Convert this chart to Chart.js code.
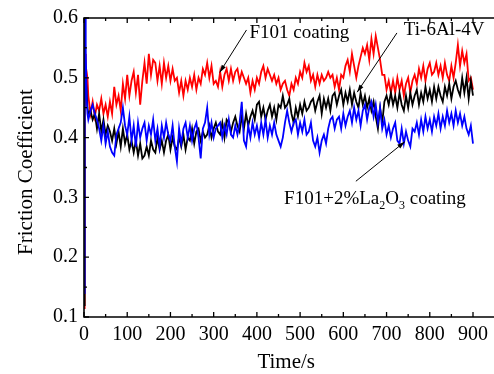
<!DOCTYPE html>
<html>
<head>
<meta charset="utf-8">
<script src="https://cdn.jsdelivr.net/npm/chart.js@4/dist/chart.umd.min.js"></script>
<style>
  body { margin: 0; background: #fff; }
  #wrap { width: 494px; height: 374px; }
</style>
</head>
<body>
<div id="wrap"><canvas id="chart"></canvas></div>
<script>
// time in seconds
const time = [0, 1, 2, 3, 4, 6, 8, 10,
  15, 20, 25, 30, 35, 40, 45, 50, 55, 60,
  65, 70, 75, 80, 85, 90, 95, 100, 105, 110,
  115, 120, 125, 130, 135, 140, 145, 150, 155, 160,
  165, 170, 175, 180, 185, 190, 195, 200, 205, 210,
  215, 220, 225, 230, 235, 240, 245, 250, 255, 260,
  265, 270, 275, 280, 285, 290, 295, 300, 305, 310,
  315, 320, 325, 330, 335, 340, 345, 350, 355, 360,
  365, 370, 375, 380, 385, 390, 395, 400, 405, 410,
  415, 420, 425, 430, 435, 440, 445, 450, 455, 460,
  465, 470, 475, 480, 485, 490, 495, 500, 505, 510,
  515, 520, 525, 530, 535, 540, 545, 550, 555, 560,
  565, 570, 575, 580, 585, 590, 595, 600, 605, 610,
  615, 620, 625, 630, 635, 640, 645, 650, 655, 660,
  665, 670, 675, 680, 685, 690, 695, 700, 705, 710,
  715, 720, 725, 730, 735, 740, 745, 750, 755, 760,
  765, 770, 775, 780, 785, 790, 795, 800, 805, 810,
  815, 820, 825, 830, 835, 840, 845, 850, 855, 860,
  865, 870, 875, 880, 885, 890, 895, 900]

// F101 coating (red)
const f101 = [0.115, 0.13, 0.45, 0.54, 0.52, 0.51, 0.50, 0.47,
  0.44, 0.46, 0.435, 0.455, 0.445, 0.465, 0.44, 0.455, 0.435, 0.46,
  0.44, 0.485, 0.455, 0.47, 0.445, 0.49, 0.465, 0.505, 0.47, 0.495,
  0.51, 0.475, 0.505, 0.455, 0.495, 0.525, 0.49, 0.54, 0.505, 0.53,
  0.525, 0.495, 0.52, 0.49, 0.525, 0.50, 0.52, 0.495, 0.515, 0.495,
  0.50, 0.475, 0.495, 0.47, 0.495, 0.48, 0.50, 0.485, 0.505, 0.48,
  0.50, 0.49, 0.515, 0.505, 0.525, 0.50, 0.52, 0.49, 0.495, 0.485,
  0.51, 0.485, 0.505, 0.515, 0.495, 0.515, 0.495, 0.51, 0.515, 0.495,
  0.51, 0.50, 0.49, 0.50, 0.475, 0.495, 0.48, 0.50, 0.49, 0.51,
  0.52, 0.50, 0.515, 0.505, 0.495, 0.505, 0.49, 0.50, 0.48, 0.49,
  0.495, 0.48, 0.47, 0.49, 0.48, 0.50, 0.49, 0.51, 0.50, 0.525,
  0.51, 0.52, 0.495, 0.505, 0.485, 0.505, 0.49, 0.505, 0.495, 0.50,
  0.51, 0.50, 0.505, 0.485, 0.50, 0.48, 0.505, 0.50, 0.52, 0.53,
  0.51, 0.54, 0.52, 0.50, 0.52, 0.535, 0.55, 0.54, 0.555, 0.53,
  0.565, 0.54, 0.57, 0.55, 0.53, 0.505, 0.505, 0.48, 0.495, 0.475,
  0.495, 0.475, 0.50, 0.48, 0.495, 0.47, 0.49, 0.50, 0.475, 0.495,
  0.505, 0.49, 0.515, 0.50, 0.52, 0.495, 0.515, 0.525, 0.505, 0.51,
  0.525, 0.505, 0.52, 0.50, 0.525, 0.505, 0.495, 0.52, 0.50, 0.525,
  0.555, 0.52, 0.545, 0.525, 0.54, 0.495, 0.50, 0.48]

// Ti-6Al-4V (black)
const ti64 = [0.12, 0.25, 0.45, 0.51, 0.50, 0.48, 0.45, 0.44,
  0.445, 0.43, 0.44, 0.415, 0.44, 0.41, 0.43, 0.405, 0.42, 0.41,
  0.395, 0.415, 0.39, 0.41, 0.385, 0.415, 0.39, 0.405, 0.38, 0.395,
  0.375, 0.395, 0.37, 0.39, 0.365, 0.37, 0.385, 0.37, 0.395, 0.38,
  0.375, 0.40, 0.38, 0.395, 0.375, 0.395, 0.405, 0.38, 0.40, 0.385,
  0.38, 0.40, 0.385, 0.405, 0.38, 0.40, 0.395, 0.415, 0.39, 0.41,
  0.415, 0.395, 0.41, 0.40, 0.405, 0.42, 0.40, 0.415, 0.425, 0.41,
  0.405, 0.425, 0.40, 0.43, 0.425, 0.41, 0.425, 0.435, 0.42, 0.41,
  0.435, 0.415, 0.44, 0.42, 0.435, 0.445, 0.43, 0.455, 0.46, 0.435,
  0.45, 0.43, 0.445, 0.455, 0.435, 0.45, 0.43, 0.455, 0.45, 0.47,
  0.45, 0.455, 0.465, 0.44, 0.425, 0.45, 0.435, 0.455, 0.44, 0.46,
  0.445, 0.45, 0.46, 0.465, 0.445, 0.46, 0.47, 0.44, 0.465, 0.45,
  0.465, 0.445, 0.47, 0.475, 0.455, 0.47, 0.48, 0.455, 0.475, 0.46,
  0.48, 0.455, 0.475, 0.46, 0.45, 0.475, 0.455, 0.47, 0.45, 0.465,
  0.445, 0.46, 0.435, 0.415, 0.45, 0.425, 0.46, 0.47, 0.455, 0.475,
  0.455, 0.47, 0.45, 0.475, 0.455, 0.445, 0.47, 0.45, 0.475, 0.455,
  0.47, 0.48, 0.455, 0.475, 0.46, 0.485, 0.465, 0.48, 0.46, 0.485,
  0.465, 0.485, 0.47, 0.46, 0.485, 0.47, 0.49, 0.465, 0.485, 0.495,
  0.48, 0.47, 0.50, 0.475, 0.50, 0.465, 0.495, 0.47]

// F101+2%La2O3 coating (blue)
const f101La = [0.14, 0.40, 0.63, 0.62, 0.55, 0.47, 0.44, 0.43,
  0.445, 0.455, 0.44, 0.43, 0.415, 0.395, 0.42, 0.39, 0.41, 0.385,
  0.375, 0.37, 0.405, 0.415, 0.425, 0.45, 0.42, 0.405, 0.435, 0.395,
  0.42, 0.385, 0.425, 0.40, 0.415, 0.425, 0.395, 0.42, 0.405, 0.43,
  0.395, 0.415, 0.385, 0.42, 0.40, 0.425, 0.405, 0.395, 0.42, 0.385,
  0.36, 0.415, 0.39, 0.415, 0.425, 0.40, 0.42, 0.395, 0.415, 0.425,
  0.40, 0.365, 0.415, 0.425, 0.45, 0.405, 0.425, 0.40, 0.415, 0.42,
  0.425, 0.40, 0.42, 0.405, 0.43, 0.405, 0.40, 0.42, 0.405, 0.425,
  0.46, 0.395, 0.385, 0.42, 0.40, 0.425, 0.405, 0.42, 0.40, 0.425,
  0.405, 0.43, 0.40, 0.42, 0.405, 0.425, 0.405, 0.395, 0.385, 0.40,
  0.425, 0.445, 0.425, 0.41, 0.425, 0.43, 0.405, 0.425, 0.41, 0.43,
  0.405, 0.41, 0.425, 0.395, 0.385, 0.40, 0.375, 0.395, 0.405, 0.39,
  0.415, 0.43, 0.435, 0.415, 0.43, 0.435, 0.415, 0.44, 0.42, 0.435,
  0.445, 0.425, 0.45, 0.43, 0.445, 0.42, 0.445, 0.455, 0.43, 0.45,
  0.46, 0.435, 0.455, 0.425, 0.45, 0.415, 0.43, 0.405, 0.42, 0.40,
  0.415, 0.425, 0.395, 0.39, 0.415, 0.39, 0.41, 0.395, 0.385, 0.415,
  0.41, 0.425, 0.405, 0.43, 0.41, 0.435, 0.415, 0.43, 0.41, 0.435,
  0.42, 0.44, 0.415, 0.435, 0.42, 0.445, 0.425, 0.44, 0.42, 0.445,
  0.425, 0.44, 0.42, 0.435, 0.415, 0.405, 0.42, 0.39]

const xTicks = [0, 100, 200, 300, 400, 500, 600, 700, 800, 900]
const yTicks = [0.1, 0.2, 0.3, 0.4, 0.5, 0.6]

const serif = "'Liberation Serif', 'Times New Roman', serif"

function puntos(valores) {
    return valores.map((v, i) => ({ x: time[i], y: v }))
}

// frame, inward ticks, titles and labels with arrows
const marco = {
    id: 'marco',
    afterDraw(chart) {
        const ctx = chart.ctx
        const { left, right, top, bottom } = chart.chartArea
        const sx = chart.scales.x
        const sy = chart.scales.y
        ctx.save()
        ctx.strokeStyle = '#000'
        ctx.lineWidth = 1.6
        ctx.beginPath()
        ctx.moveTo(right + 2, top); ctx.lineTo(left, top)
        ctx.lineTo(left, bottom); ctx.lineTo(right + 2, bottom)
        ctx.stroke()

        ctx.lineWidth = 1.3
        ctx.beginPath()
        xTicks.forEach((v, i) => {
            const p = sx.getPixelForValue(v)
            ctx.moveTo(p, bottom); ctx.lineTo(p, bottom - 5)
            ctx.moveTo(p, top); ctx.lineTo(p, top + 5)
            const m = sx.getPixelForValue(v + 50)
            if (m < right) {
                ctx.moveTo(m, bottom); ctx.lineTo(m, bottom - 3)
                ctx.moveTo(m, top); ctx.lineTo(m, top + 3)
            }
        })
        yTicks.forEach((v) => {
            const p = sy.getPixelForValue(v)
            ctx.moveTo(left, p); ctx.lineTo(left + 5, p)
            if (v < 0.6) {
                const m = sy.getPixelForValue(v + 0.05)
                ctx.moveTo(left, m); ctx.lineTo(left + 3, m)
            }
        })
        ctx.stroke()

        // axis titles
        ctx.fillStyle = '#000'
        ctx.font = '21px ' + serif
        ctx.textAlign = 'center'
        ctx.textBaseline = 'middle'
        ctx.fillText('Time/s', (left + right) / 2 - 2, 362)
        ctx.save()
        ctx.translate(26, 172)
        ctx.rotate(-Math.PI / 2)
        ctx.fillText('Friction Coefficient', 0, 0)
        ctx.restore()

        // labels
        ctx.textAlign = 'left'
        ctx.textBaseline = 'alphabetic'
        ctx.font = '19px ' + serif
        ctx.fillText('F101 coating', sx.getPixelForValue(383), sy.getPixelForValue(0.567))
        ctx.fillText('Ti-6Al-4V', sx.getPixelForValue(740), sy.getPixelForValue(0.571))

        let x = sx.getPixelForValue(463)
        const y = sy.getPixelForValue(0.289)
        const partes = [['F101+2%La', 19, 0], ['2', 12, 5], ['O', 19, 0], ['3', 12, 5], [' coating', 19, 0]]
        partes.forEach(([t, s, dy]) => {
            ctx.font = s + 'px ' + serif
            ctx.fillText(t, x, y + dy)
            x += ctx.measureText(t).width
        })

        flecha(ctx, sx.getPixelForValue(376), sy.getPixelForValue(0.580), sx.getPixelForValue(314), sy.getPixelForValue(0.509))
        flecha(ctx, sx.getPixelForValue(724), sy.getPixelForValue(0.575), sx.getPixelForValue(632), sy.getPixelForValue(0.476))
        flecha(ctx, sx.getPixelForValue(629), sy.getPixelForValue(0.327), sx.getPixelForValue(742), sy.getPixelForValue(0.393))
        ctx.restore()
    }
}

function flecha(ctx, x1, y1, x2, y2) {
    const a = Math.atan2(y2 - y1, x2 - x1)
    ctx.strokeStyle = '#000'
    ctx.lineWidth = 1
    ctx.beginPath()
    ctx.moveTo(x1, y1); ctx.lineTo(x2, y2)
    ctx.stroke()
    ctx.beginPath()
    ctx.moveTo(x2, y2)
    ctx.lineTo(x2 - 8 * Math.cos(a - 0.3), y2 - 8 * Math.sin(a - 0.3))
    ctx.lineTo(x2 - 8 * Math.cos(a + 0.3), y2 - 8 * Math.sin(a + 0.3))
    ctx.closePath()
    ctx.fill()
}

const grafico = document.getElementById('chart').getContext('2d')
new Chart(grafico, {
    type: 'line',
    data: {
        datasets: [
            { label: 'F101+2%La2O3 coating', data: puntos(f101La), borderColor: '#0000ff', borderWidth: 1.8, pointRadius: 0, tension: 0 },
            { label: 'Ti-6Al-4V', data: puntos(ti64), borderColor: '#000000', borderWidth: 1.8, pointRadius: 0, tension: 0 },
            { label: 'F101 coating', data: puntos(f101), borderColor: '#ff0000', borderWidth: 1.8, pointRadius: 0, tension: 0 },
        ],
    },
    options: {
        animation: false,
        responsive: true,
        maintainAspectRatio: false,
        devicePixelRatio: 1,
        layout: { padding: { top: 15, right: 0, left: 0, bottom: 0 } },
        plugins: { legend: { display: false }, tooltip: { enabled: false } },
        scales: {
            x: {
                type: 'linear', min: 0, max: 945,
                grid: { display: false, drawTicks: false },
                border: { display: false },
                afterBuildTicks: (s) => { s.ticks = xTicks.map((v) => ({ value: v })) },
                afterFit: (s) => { s.height = 57 },
                ticks: { font: { family: serif, size: 20 }, color: '#000', padding: 6, maxRotation: 0, autoSkip: false },
            },
            y: {
                min: 0.1, max: 0.6,
                grid: { display: false, drawTicks: false },
                border: { display: false },
                afterBuildTicks: (s) => { s.ticks = yTicks.map((v) => ({ value: v })) },
                afterFit: (s) => { s.width = 84 },
                ticks: { font: { family: serif, size: 20 }, color: '#000', padding: 6, callback: (v) => v.toFixed(1) },
            },
        },
    },
    plugins: [marco],
})
</script>
</body>
</html>
